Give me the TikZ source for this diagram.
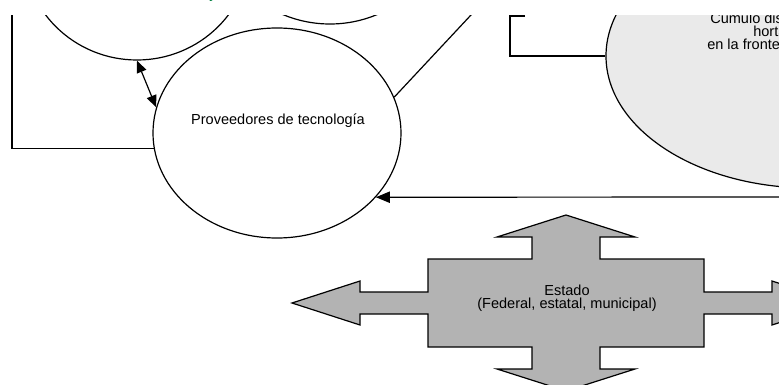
\documentclass[tikz,border=0pt]{standalone}
\usepackage{fontspec}
\setmainfont{Liberation Sans}
\usetikzlibrary{arrows.meta,shapes.geometric}
\definecolor{lightfill}{RGB}{234,234,234}
\definecolor{crossfill}{RGB}{179,179,179}
\definecolor{titlegreen}{RGB}{0,128,64}
\tikzset{
  stroke/.style={line width=0.9pt, draw=black},
  oval/.style={ellipse, stroke, inner sep=0pt},
  lbl/.style={font=\fontsize{10.9}{9.75}\selectfont, inner sep=0pt, align=center},
  tiparrow/.style={-{Triangle[length=10.5pt,width=8.5pt]}},
  dtiparrow/.style={{Triangle[length=9pt,width=7.5pt]}-{Triangle[length=9pt,width=7.5pt]}},
}
\begin{document}
\begin{tikzpicture}[x=0.75pt,y=-0.75pt]
\useasboundingbox (0,0) rectangle (779,385);
\node[lbl, text=titlegreen, anchor=base] (ttl) at (213,-1) {y};
\begin{scope}
\clip (0,16) rectangle (779,385);
% ovals
\node[oval, minimum width=171pt, minimum height=168pt] (c1) at (137,-52) {};
\node[oval, minimum width=180pt, minimum height=177pt] (c2) at (330,-94) {};
\node[oval, minimum width=186pt, minimum height=157.5pt] (prov) at (277,133) {};
\node[oval, fill=lightfill, minimum width=306pt, minimum height=198pt] (big) at (810,56) {};
% labels
\node[lbl, anchor=base] (provt) at (278,124) {Proveedores de tecnología};
\node[lbl, anchor=base west] (bigt1) at (710,24) {Cumulo disperso};
\node[lbl, anchor=base west] (bigt2) at (753,37) {hortalizas};
\node[lbl, anchor=base west] (bigt3) at (707,50) {en la frontera};
% connectors
\draw[stroke, dtiparrow] (c1.south) -- (prov.168);
\coordinate (topend) at (485,0);
\draw[stroke] (prov.17) -- (topend);
\coordinate (lbtop) at (12,0);
\draw[stroke] (lbtop) |- (prov.187);
\coordinate (rbtop) at (525,16);
\draw[stroke] (rbtop) -- (510,16) |- (big.west);
\coordinate (rin) at (800,197);
\draw[stroke, tiparrow] (rin) -- (prov.-33);
% Estado cross
\draw[stroke, fill=crossfill, line join=miter]
  (566,215) -- (635,237) -- (600,237) -- (600,259) -- (704,259) -- (704,292)
  -- (772,292) -- (772,281) -- (840,303) -- (772,325) -- (772,314) -- (704,314)
  -- (704,347) -- (600,347) -- (600,369) -- (635,369) -- (566,391) -- (497,369)
  -- (532,369) -- (532,347) -- (428,347) -- (428,314) -- (360,314) -- (360,325)
  -- (292,303) -- (360,281) -- (360,292) -- (428,292) -- (428,259) -- (532,259)
  -- (532,237) -- (497,237) -- cycle;
\node[lbl, anchor=north] (estado) at (567,284.5) {Estado\\(Federal, estatal, municipal)};
\end{scope}
\end{tikzpicture}
\end{document}
